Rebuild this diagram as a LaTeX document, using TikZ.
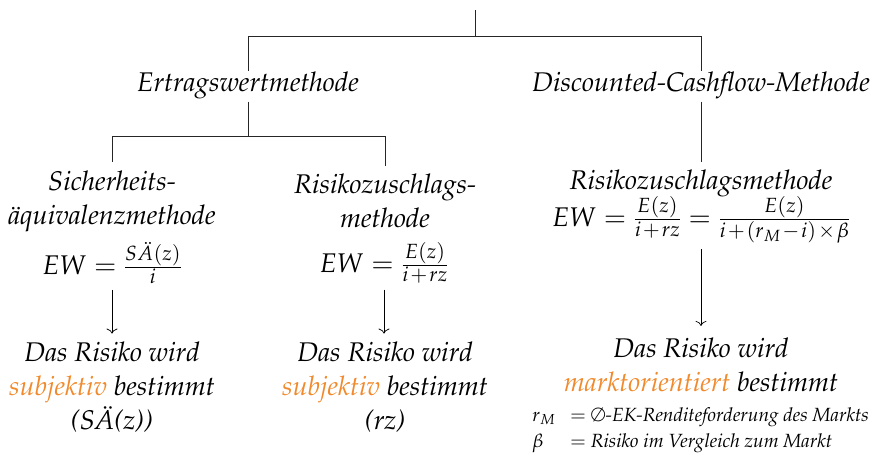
\documentclass[tikz,border=0pt]{standalone}
\usepackage[T1]{fontenc}
\usepackage{amsmath,amssymb}
\usepackage{mathpazo}
\usetikzlibrary{arrows.meta}
\definecolor{accent}{RGB}{240,138,44}
% small space around operators inside the fractions
\newcommand{\opsp}{\mskip1.5mu}
\begin{document}
\begin{tikzpicture}[x=1pt,y=-1pt,
  lbl/.style={font=\fontsize{27}{34}\selectfont\itshape, align=center, inner sep=2pt},
  legend/.style={font=\fontsize{19.1}{26}\selectfont\itshape, align=left, inner sep=0pt},
  tree/.style={line width=0.9pt, draw=black!85},
  arr/.style={-{To[length=5pt,width=11pt]}, line width=0.7pt}]
\useasboundingbox (0,0) rectangle (875,455);

% root and first fork
\coordinate (root) at (475,10);
\coordinate (fork1) at (475,36);
\node[lbl] (ewm) at (248,85) {Ertragswertmethode};
\node[lbl] (dcf) at (701,85) {Discounted-Cashflow-Methode};

% second level
\coordinate (fork2) at (248,136);
\node[lbl] (sae) at (112,201) {Sicherheits-\\\"aquivalenzmethode};
\node[lbl] (rzm) at (385,201) {Risikozuschlags-\\methode};
\node[lbl] (rzd) at (701,183) {Risikozuschlagsmethode};

% formulas
\node[lbl] (f1) at (112,263) {$EW=\frac{S\ddot{A}(z)}{i}$};
\node[lbl] (f2) at (384,263) {$EW=\frac{E(z)}{i\opsp+\opsp rz}$};
\node[lbl] (f3) at (701,220) {$EW=\frac{E(z)}{i\opsp+\opsp rz}=\frac{E(z)}{i\opsp+\opsp(r_M\opsp-\opsp i)\opsp\times\opsp\beta}$};

% results
\node[lbl] (r1) at (112,387) {Das Risiko wird\\\textcolor{accent}{subjektiv} bestimmt\\(S\"A(z))};
\node[lbl] (r2) at (385,387) {Das Risiko wird\\\textcolor{accent}{subjektiv} bestimmt\\(rz)};
\node[lbl] (r3) at (701,365) {Das Risiko wird\\\textcolor{accent}{marktorientiert} bestimmt};

% legend
\node[legend, anchor=west] (leg) at (532,429) {%
  \begin{tabular}{@{}l@{\hspace{15pt}}l@{}}
  $r_M$ & $=$ $\emptyset$-EK-Renditeforderung des Markts\\
  $\beta$ & $=$ Risiko im Vergleich zum Markt
  \end{tabular}};

% connectors
\draw[tree] (root) -- (fork1);
\draw[tree] (fork1) -| ([yshift=-2pt]ewm.north);
\draw[tree] (fork1) -| ([yshift=-2pt]dcf.north);
\draw[tree] ([yshift=-1pt]ewm.south) -- (fork2);
\draw[tree] (fork2) -| ([yshift=6pt]sae.north);
\draw[tree] (fork2) -| ([yshift=6pt]rzm.north);
\draw[tree] ([yshift=-1pt]dcf.south) -- ([yshift=5pt]rzd.north);

\draw[arr] ([yshift=-4pt]f1.south) -- ([yshift=6pt]r1.north);
\draw[arr] ([yshift=-4pt]f2.south) -- ([yshift=6pt]r2.north -| f2.south);
\draw[arr] ([yshift=-4pt]f3.south) -- ([yshift=10pt]r3.north);
\end{tikzpicture}
\end{document}
